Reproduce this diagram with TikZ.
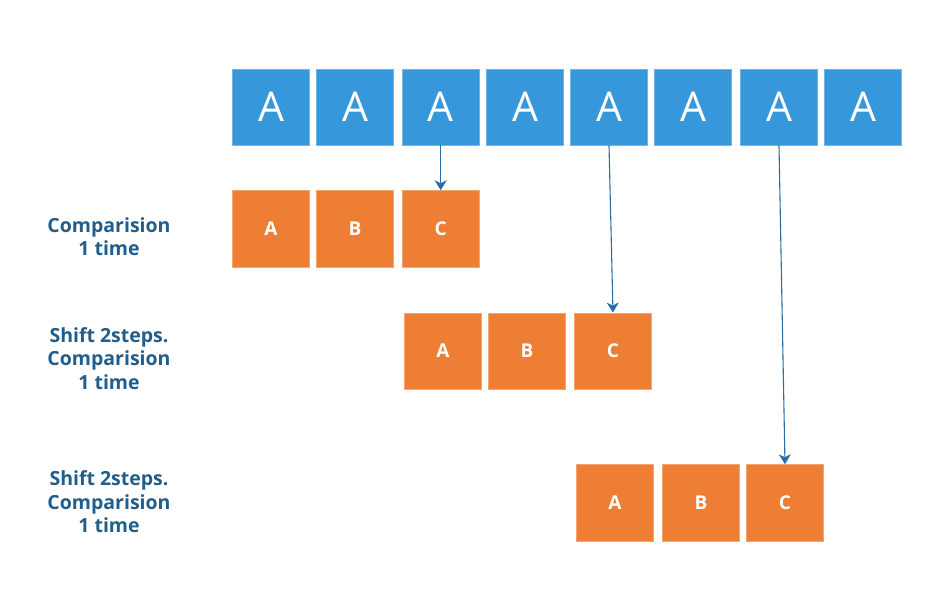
\documentclass[tikz,border=0pt]{standalone}
\usepackage{fontspec}
\setmainfont{Open Sans}
\usetikzlibrary{arrows.meta}
\definecolor{cellblue}{HTML}{3698DB}
\definecolor{cellorange}{HTML}{EE7E33}
\definecolor{arrowblue}{HTML}{2A6EA6}
\definecolor{labelblue}{HTML}{215E8C}
\begin{document}
\begin{tikzpicture}[x=1pt,y=-1pt,
  textbox/.style={rectangle, minimum width=76.6pt, minimum height=76.3pt, inner sep=0pt},
  blue/.style={textbox, fill=cellblue, draw=cellblue!70!white, line width=0.6pt, text=white, font=\fontsize{41}{41}\selectfont},
  orange/.style={textbox, fill=cellorange, draw=cellorange!70!white, line width=0.6pt, text=white, font=\bfseries\fontsize{19}{19}\selectfont},
  label/.style={align=center, text=labelblue, font=\bfseries\fontsize{19.5}{23.5}\selectfont},
  link/.style={draw=arrowblue, line width=1.1pt, -{Stealth[length=10pt,width=12pt,inset=3pt]}}]
\useasboundingbox (0,0) rectangle (946,614);
% text row
\node[blue] (txt0) at (271,107){A};
\node[blue] (txt1) at (355,107){A};
\node[blue] (txt2) at (440.7,107){A};
\node[blue] (txt3) at (525,107){A};
\node[blue] (txt4) at (609,107){A};
\node[blue] (txt5) at (693,107){A};
\node[blue] (txt6) at (779,107){A};
\node[blue] (txt7) at (863,107){A};
% pattern, first try
\node[orange] (pa1) at (271,228.7){A};
\node[orange] (pb1) at (355,228.7){B};
\node[orange] (pc1) at (440.7,228.7){C};
\draw[link](txt2.south) -- (pc1.north);
% shift 2 steps
\node[orange] (pa2) at (443,351){A};
\node[orange] (pb2) at (527,351){B};
\node[orange] (pc2) at (613,351){C};
\draw[link](txt4.south) -- (pc2.north);
% shift 2 steps again
\node[orange] (pa3) at (615,502.7){A};
\node[orange] (pb3) at (701,502.7){B};
\node[orange] (pc3) at (785,502.7){C};
\draw[link](txt6.south) -- (pc3.north);
\node[label] (lab1) at (109,236.5){Comparision\\1 time};
\node[label] (lab2) at (109,358.5){Shift 2steps.\\Comparision\\1 time};
\node[label] (lab3) at (109,502){Shift 2steps.\\Comparision\\1 time};
\end{tikzpicture}
\end{document}
